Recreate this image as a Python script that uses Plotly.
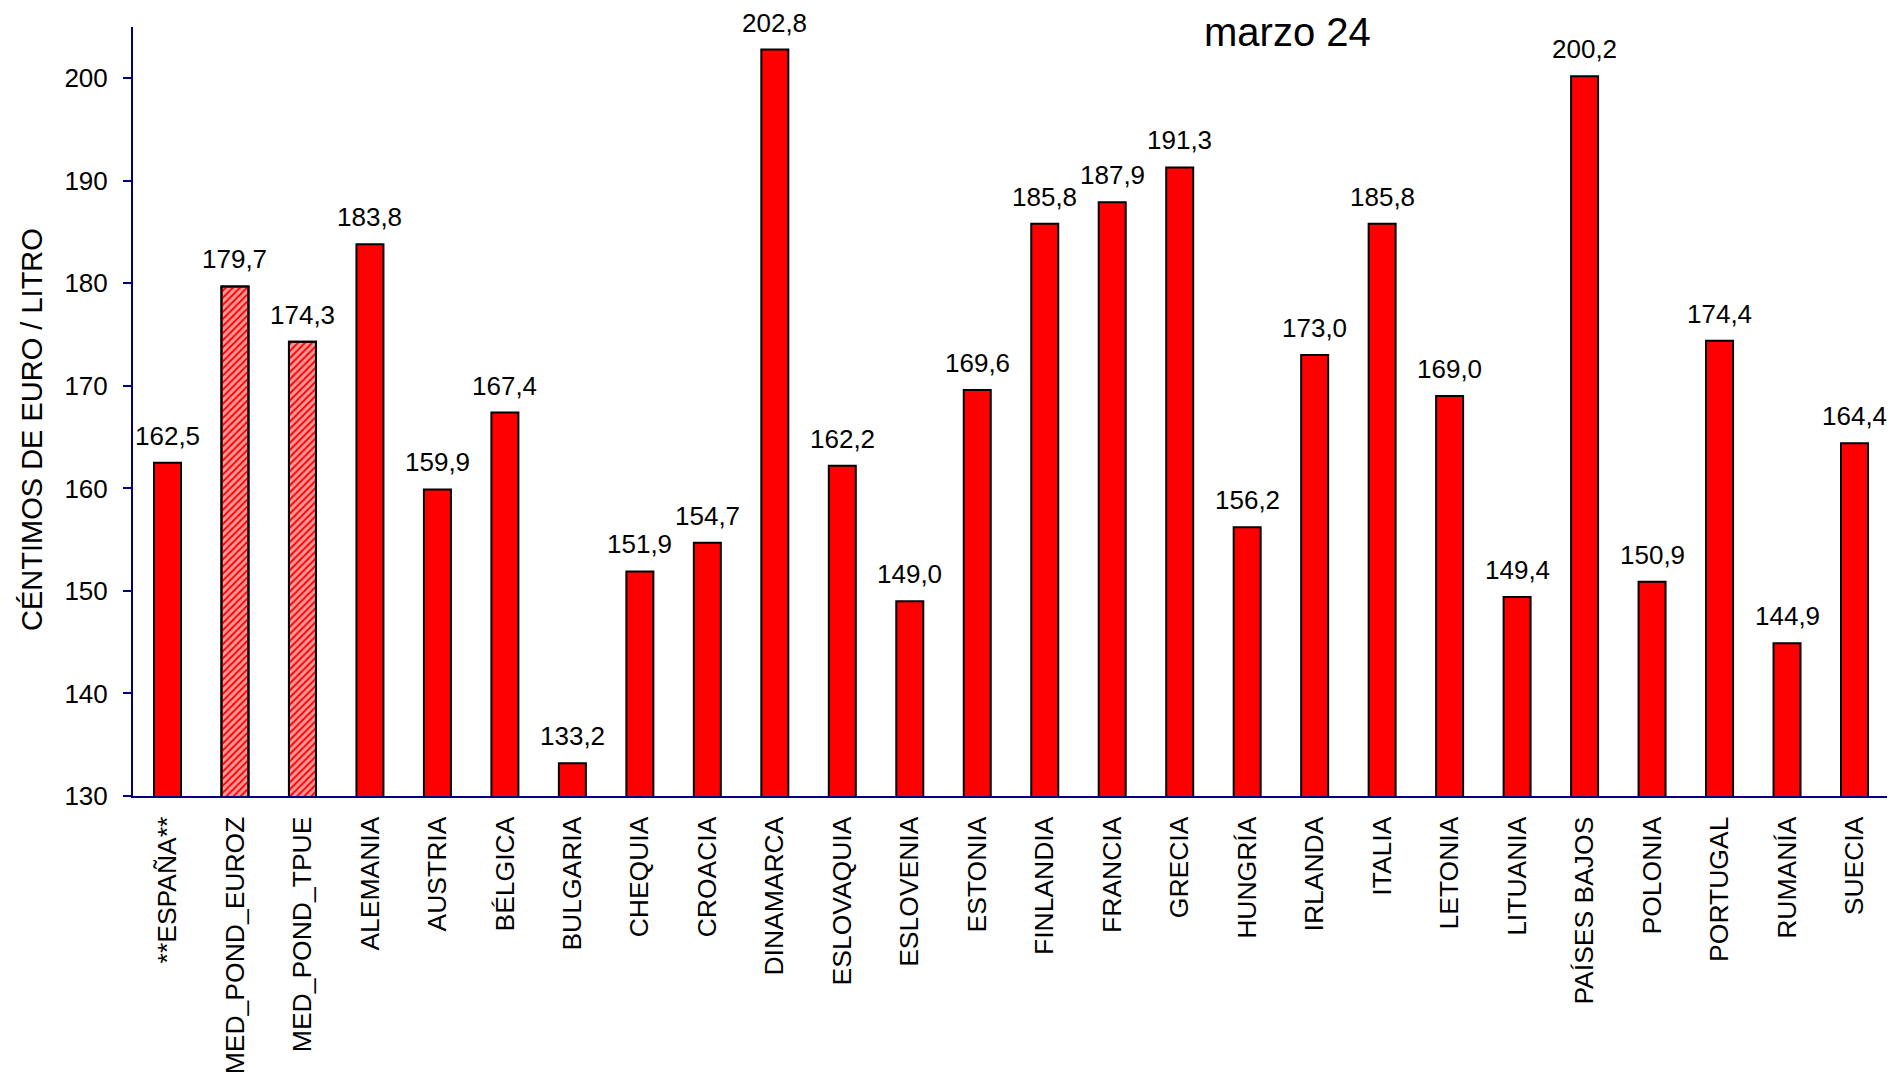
import plotly.graph_objects as go

categories = ['**ESPAÑA**', 'MED_POND_EUROZ', 'MED_POND_TPUE', 'ALEMANIA', 'AUSTRIA',
              'BÉLGICA', 'BULGARIA', 'CHEQUIA', 'CROACIA', 'DINAMARCA', 'ESLOVAQUIA',
              'ESLOVENIA', 'ESTONIA', 'FINLANDIA', 'FRANCIA', 'GRECIA', 'HUNGRÍA',
              'IRLANDA', 'ITALIA', 'LETONIA', 'LITUANIA', 'PAÍSES BAJOS', 'POLONIA',
              'PORTUGAL', 'RUMANÍA', 'SUECIA']
prices = [162.5, 179.7, 174.3, 183.8, 159.9, 167.4, 133.2, 151.9, 154.7, 202.8, 162.2,
          149.0, 169.6, 185.8, 187.9, 191.3, 156.2, 173.0, 185.8, 169.0, 149.4, 200.2,
          150.9, 174.4, 144.9, 164.4]
averages = ['MED_POND_EUROZ', 'MED_POND_TPUE']

font = 'Arial, Liberation Sans, sans-serif'

def fmt(v):
    return f'{v:.1f}'.replace('.', ',')

colors = ['#ff9a9a' if c in averages else '#ff0000' for c in categories]
avg_prices = [p for c, p in zip(categories, prices) if c in averages]

fig = go.Figure()
fig.add_trace(go.Bar(
    x=categories, y=prices, width=0.4,
    marker=dict(color=colors, line=dict(color='black', width=2)),
))
# red hatch drawn over the pink average bars
fig.add_trace(go.Bar(
    x=averages, y=avg_prices, width=0.4,
    marker=dict(color='#ff0000', line=dict(color='black', width=2),
                pattern=dict(shape='/', fillmode='replace', fgcolor='#ff0000',
                             size=5, solidity=0.4)),
))

# value labels above each bar
for c, v in zip(categories, prices):
    fig.add_annotation(x=c, y=v, text=fmt(v), showarrow=False, yanchor='bottom',
                       yshift=10, font=dict(family=font, size=26, color='black'))

# y axis title, placed by hand
fig.add_annotation(text='CÉNTIMOS DE EURO / LITRO', xref='paper', yref='paper',
                   x=0, y=0.476, xshift=-101, xanchor='center', yanchor='middle',
                   textangle=-90, showarrow=False,
                   font=dict(family=font, size=29, color='black'))

# the browser page adds an 8px body margin, so the figure is a bit smaller
fig.update_layout(
    width=1887, height=1076,
    margin=dict(l=125, r=6, t=19, b=288),
    plot_bgcolor='white', paper_bgcolor='white',
    showlegend=False, barmode='overlay',
    font=dict(family=font, color='black'),
    title=dict(text='marzo 24', x=0.678, xanchor='center', y=0.978, yanchor='middle',
               font=dict(family=font, size=40, color='black')),
)
fig.update_yaxes(range=[130, 205], dtick=10, showgrid=False, zeroline=False,
                 automargin=False,
                 showline=True, linecolor='#000080', linewidth=2,
                 ticks='outside', ticklen=8, tickcolor='#000080', tickwidth=2,
                 ticklabelstandoff=10,
                 tickfont=dict(family=font, size=26, color='black'))
fig.update_xaxes(showgrid=False, showline=True, linecolor='#000080', linewidth=2,
                 automargin=False,
                 ticks='', tickangle=-90, ticklabelstandoff=8,
                 tickfont=dict(family=font, size=26.5, color='black'))

fig.write_html("out.html")
